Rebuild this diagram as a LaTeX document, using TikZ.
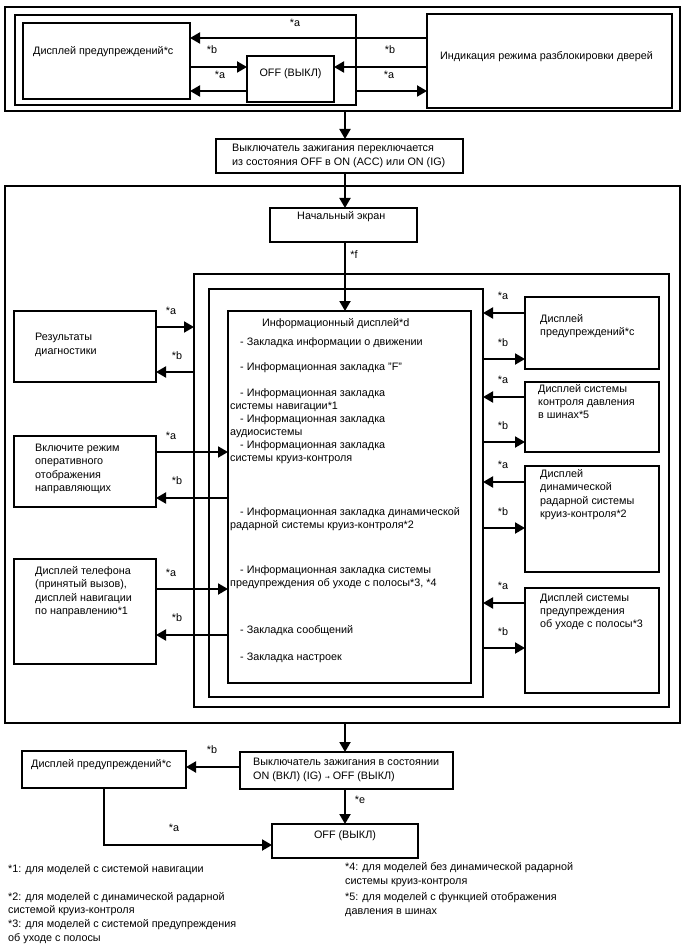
\documentclass[tikz,border=0pt]{standalone}
\usepackage{fontspec}
\setmainfont{Liberation Sans}
\newfontfamily\dejavu{DejaVu Sans}
\usetikzlibrary{arrows.meta}
\newcommand\mybox[5]{\node[box,minimum width={(#4-#2)*1pt},minimum height={(#5-#3)*1pt}] (#1) at (#2,#3) {};}
\newcommand\tl[4]{\node[txt] (#1) at (#2,{#3+3.7}) {#4};}
\begin{document}
\begin{tikzpicture}[x=1pt,y=-1pt,
  box/.style={draw,line width=1.5pt,inner sep=0pt,outer sep=0pt,anchor=north west},
  arr/.style={line width=2pt,-{Triangle[length=10pt,width=11pt]}},
  txt/.style={inner sep=0pt,anchor=base west,font=\fontsize{10.8}{13}\selectfont},
  lbl/.style={inner sep=0pt,font=\fontsize{10.8}{13}\selectfont}]
\fill[white] (0,0) rectangle (688,949);
\useasboundingbox (0,0) rectangle (688,949);
\coordinate (cx) at (345,0);
% ---------- top block
\mybox{outerT}{5}{7}{680}{111}
\mybox{innerT}{15}{15}{356}{105}
\mybox{warnA}{23}{23}{190}{99}
\mybox{offA}{247}{56}{334}{102}
\mybox{door}{427}{14}{672}{108}
\tl{twA}{33}{51}{Дисплей предупреждений*c}
\node[lbl] (toffA) at (290.5,74) {OFF (ВЫКЛ)};
\tl{tdoor}{440}{56}{Индикация режима разблокировки дверей}
\coordinate (h38) at (0,38);
\coordinate (h67) at (0,67);
\coordinate (h91) at (0,91);
\draw[arr] (door.west |- h38) -- (warnA.east |- h38);
\draw[arr] (warnA.east |- h67) -- (offA.west |- h67);
\draw[arr] (door.west |- h67) -- (offA.east |- h67);
\draw[arr] (offA.west |- h91) -- (warnA.east |- h91);
\draw[arr] (innerT.east |- h91) -- (door.west |- h91);
\node[lbl] (la1) at (295,23) {*a};
\node[lbl] (lb1) at (212,50) {*b};
\node[lbl] (la2) at (220,75) {*a};
\node[lbl] (lb2) at (390,50) {*b};
\node[lbl] (la3) at (389,75) {*a};
% ---------- ignition 1
\mybox{ign1}{216}{139}{463}{173}
\tl{ti1a}{232}{148}{Выключатель зажигания переключается}
\tl{ti1b}{232}{162}{из состояния OFF в ON (ACC) или ON (IG)}
\draw[arr] (outerT.south -| cx) -- (ign1.north -| cx);
% ---------- big block
\mybox{big}{5}{186}{680}{723}
\mybox{start}{270}{208}{417}{242}
\tl{tstart}{297}{216}{Начальный экран}
\draw[arr] (ign1.south -| cx) -- (start.north -| cx);
\mybox{boxA}{194}{274}{669}{707}
\mybox{boxB}{209}{289}{483}{697}
\mybox{info}{228}{311}{471}{683}
\draw[arr] (start.south -| cx) -- (info.north -| cx);
\node[lbl] (lf) at (354,255) {*f};
% info texts
\tl{i0}{262}{323}{Информационный дисплей*d}
\tl{i1}{240}{342}{- Закладка информации о движении}
\tl{i2}{240}{367}{- Информационная закладка "F"}
\tl{i3}{240}{393}{- Информационная закладка}
\tl{i3b}{230}{406}{системы навигации*1}
\tl{i4}{240}{419}{- Информационная закладка}
\tl{i4b}{230}{432}{аудиосистемы}
\tl{i5}{240}{445}{- Информационная закладка}
\tl{i5b}{230}{458}{системы круиз-контроля}
\tl{i6}{240}{512}{- Информационная закладка динамической}
\tl{i6b}{230}{525}{радарной системы круиз-контроля*2}
\tl{i7}{240}{570}{- Информационная закладка системы}
\tl{i7b}{230}{583}{предупреждения об уходе с полосы*3, *4}
\tl{i8}{240}{630}{- Закладка сообщений}
\tl{i9}{240}{657}{- Закладка настроек}
% right boxes
\mybox{r1}{525}{297}{659}{369}
\tl{r1a}{540}{319}{Дисплей}
\tl{r1b}{540}{332}{предупреждений*c}
\mybox{r2}{525}{382}{659}{452}
\tl{r2a}{538}{389}{Дисплей системы}
\tl{r2b}{538}{402}{контроля давления}
\tl{r2c}{538}{415}{в шинах*5}
\mybox{r3}{525}{466}{659}{572}
\tl{r3a}{540}{474}{Дисплей}
\tl{r3b}{540}{487}{динамической}
\tl{r3c}{540}{501}{радарной системы}
\tl{r3d}{540}{514}{круиз-контроля*2}
\mybox{r4}{525}{588}{659}{693}
\tl{r4a}{540}{598}{Дисплей системы}
\tl{r4b}{540}{611}{предупреждения}
\tl{r4c}{540}{624}{об уходе с полосы*3}
\foreach \bx/\ya/\yb in {r1/313/359, r2/397/442, r3/482/528, r4/603/648}{
  \coordinate (ha) at (0,\ya);
  \coordinate (hb) at (0,\yb);
  \draw[arr] (\bx.west |- ha) -- (boxB.east |- ha);
  \draw[arr] (boxB.east |- hb) -- (\bx.west |- hb);
  \node[lbl] at (503,\ya-17) {*a};
  \node[lbl] at (503,\yb-16) {*b};
}
% left boxes
\mybox{l1}{14}{311}{156}{382}
\tl{l1a}{35}{337}{Результаты}
\tl{l1b}{35}{351}{диагностики}
\mybox{l2}{14}{436}{156}{507}
\tl{l2a}{35}{448}{Включите режим}
\tl{l2b}{35}{461}{оперативного}
\tl{l2c}{35}{475}{отображения}
\tl{l2d}{35}{488}{направляющих}
\mybox{l3}{14}{559}{156}{664}
\tl{l3a}{35}{571}{Дисплей телефона}
\tl{l3b}{35}{584}{(принятый вызов),}
\tl{l3c}{35}{598}{дисплей навигации}
\tl{l3d}{35}{611}{по направлению*1}
\coordinate (g1a) at (0,327);
\coordinate (g1b) at (0,372);
\draw[arr] (l1.east |- g1a) -- (boxA.west |- g1a);
\draw[arr] (boxA.west |- g1b) -- (l1.east |- g1b);
\node[lbl] (lla1) at (171,311) {*a};
\node[lbl] (llb1) at (177,356) {*b};
\foreach \bx/\ya/\yb in {l2/452/498, l3/589/635}{
  \coordinate (ha) at (0,\ya);
  \coordinate (hb) at (0,\yb);
  \draw[arr] (\bx.east |- ha) -- (info.west |- ha);
  \draw[arr] (info.west |- hb) -- (\bx.east |- hb);
  \node[lbl] at (171,\ya-16) {*a};
  \node[lbl] at (177,\yb-17) {*b};
}
% ---------- bottom
\mybox{ign2}{240}{752}{453}{789}
\tl{ti2a}{253}{762}{Выключатель зажигания в состоянии}
\tl{ti2b}{253}{776}{ON (ВКЛ) (IG) {\dejavu\fontsize{6}{6}\selectfont →} OFF (ВЫКЛ)}
\draw[arr] (big.south -| cx) -- (ign2.north -| cx);
\mybox{warnB}{22}{751}{186}{788}
\tl{twB}{31}{764}{Дисплей предупреждений*c}
\coordinate (h767) at (0,767);
\draw[arr] (ign2.west |- h767) -- (warnB.east |- h767);
\node[lbl] (lbB) at (212,750) {*b};
\mybox{offB}{272}{824}{418}{858}
\node[lbl] (toffB) at (345,836) {OFF (ВЫКЛ)};
\draw[arr] (ign2.south -| cx) -- (offB.north -| cx);
\node[lbl] (le) at (360,800) {*e};
\coordinate (ex) at (104,0);
\coordinate (h845) at (0,845);
\draw[arr] (warnB.south -| ex) |- (offB.west |- h845);
\node[lbl] (laB) at (174,828) {*a};
% ---------- footnotes
\tl{f1}{8}{869}{*1: для моделей с системой навигации}
\tl{f2}{8}{897}{*2: для моделей с динамической радарной}
\tl{f2b}{8}{910}{системой круиз-контроля}
\tl{f3}{8}{924}{*3: для моделей с системой предупреждения}
\tl{f3b}{8}{938}{об уходе с полосы}
\tl{f4}{345}{867}{*4: для моделей без динамической радарной}
\tl{f4b}{345}{881}{системы круиз-контроля}
\tl{f5}{345}{897}{*5: для моделей с функцией отображения}
\tl{f5b}{345}{911}{давления в шинах}
\end{tikzpicture}
\end{document}
